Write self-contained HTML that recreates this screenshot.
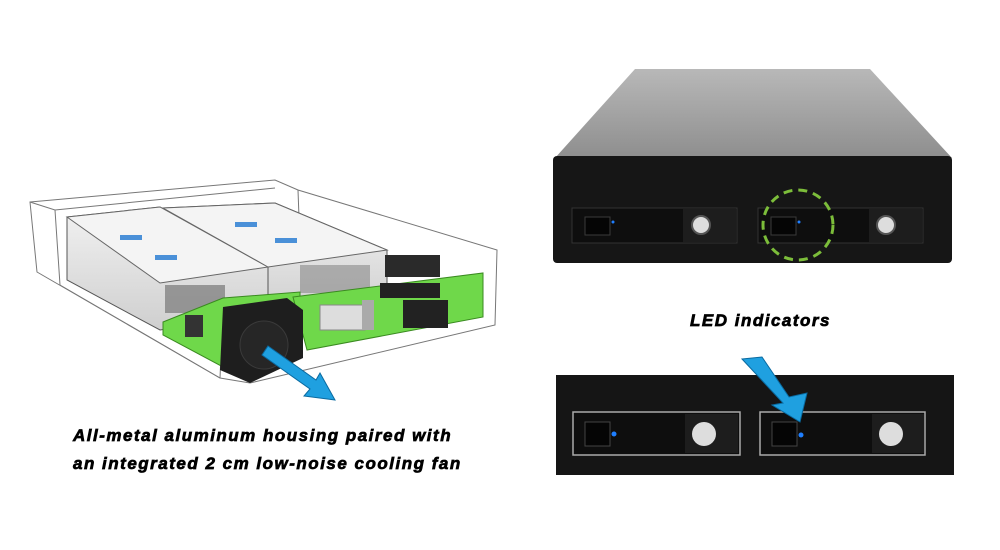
<!DOCTYPE html>
<html><head><meta charset="utf-8"><style>
html,body{margin:0;padding:0;background:#fff;}
svg{display:block}
text{font-family:"Liberation Sans",Arial,sans-serif;font-weight:bold;font-style:italic;fill:#000;stroke:#000;stroke-width:0.7px;letter-spacing:1.5px}
</style></head><body>
<svg width="1000" height="550" viewBox="0 0 1000 550" xmlns="http://www.w3.org/2000/svg">
<defs>
<linearGradient id="top" x1="0" y1="0" x2="0" y2="1">
<stop offset="0" stop-color="#b8b8b8"/><stop offset="1" stop-color="#8e8e8e"/></linearGradient>
<linearGradient id="tray" x1="0" y1="0" x2="0" y2="1">
<stop offset="0" stop-color="#f2f2f2"/><stop offset="1" stop-color="#cfcfcf"/></linearGradient>
</defs>

<!-- LEFT: transparent enclosure -->
<g fill="none" stroke="#777" stroke-width="1">
<polygon points="30,202 275,180 298,190 497,250 495,325 250,383 220,378 37,272"/>
<polyline points="30,202 55,210 275,188"/>
<polyline points="55,210 60,285 220,378"/>
<polyline points="298,190 300,245"/>
<polyline points="220,378 222,330"/>
</g>
<polygon points="67,217 160,207 268,267 268,315 160,330 67,280" fill="url(#tray)" stroke="#555"/>
<polygon points="163,208 275,203 387,250 387,300 268,315 268,267" fill="url(#tray)" stroke="#555"/>
<polygon points="67,217 160,207 268,267 160,283" fill="#f4f4f4" stroke="#666"/>
<polygon points="163,208 275,203 387,250 268,267" fill="#f4f4f4" stroke="#666"/>
<rect x="120" y="235" width="22" height="5" fill="#4a90d8"/>
<rect x="155" y="255" width="22" height="5" fill="#4a90d8"/>
<rect x="235" y="222" width="22" height="5" fill="#4a90d8"/>
<rect x="275" y="238" width="22" height="5" fill="#4a90d8"/>
<rect x="165" y="285" width="60" height="28" fill="#777" opacity="0.7"/>
<rect x="300" y="265" width="70" height="28" fill="#888" opacity="0.6"/>
<polygon points="163,322 223,298 300,292 300,355 223,367 163,335" fill="#6fd84a" stroke="#3a8a20"/>
<polygon points="293,297 483,273 483,317 307,350" fill="#6fd84a" stroke="#3a8a20"/>
<rect x="385" y="255" width="55" height="22" fill="#2a2a2a"/>
<rect x="380" y="283" width="60" height="15" fill="#222"/>
<rect x="403" y="300" width="45" height="28" fill="#222"/>
<rect x="185" y="315" width="18" height="22" fill="#333"/>
<rect x="320" y="305" width="45" height="25" fill="#ddd" stroke="#888"/>
<rect x="362" y="300" width="12" height="30" fill="#aaa"/>
<polygon points="223,307 287,298 303,310 303,358 250,383 220,370" fill="#1e1e1e"/>
<circle cx="264" cy="345" r="24" fill="#262626" stroke="#3a3a3a"/>
<polygon points="268,346 316,380 320,373 335,400 304,396 310,389 262,355" fill="#1fa0e0" stroke="#0a6aa0" stroke-width="1"/>

<text x="73" y="441" font-size="17">All-metal aluminum housing paired with</text>
<text x="73" y="469" font-size="17">an integrated 2 cm low-noise cooling fan</text>

<!-- RIGHT TOP device -->
<polygon points="635,69 870,69 952,158 555,158" fill="url(#top)"/>
<rect x="553" y="156" width="399" height="107" rx="4" fill="#161616"/>
<g>
<rect x="572" y="208" width="165" height="35" fill="#0e0e0e" stroke="#333"/>
<rect x="758" y="208" width="165" height="35" fill="#0e0e0e" stroke="#333"/>
<rect x="683" y="209" width="53" height="33" fill="#1d1d1d"/>
<rect x="869" y="209" width="53" height="33" fill="#1d1d1d"/>
<rect x="585" y="217" width="25" height="18" fill="#050505" stroke="#3a3a3a"/>
<rect x="771" y="217" width="25" height="18" fill="#050505" stroke="#3a3a3a"/>
<circle cx="613" cy="222" r="1.5" fill="#1f7fff"/>
<circle cx="799" cy="222" r="1.5" fill="#1f7fff"/>
<circle cx="701" cy="225" r="9" fill="#ddd" stroke="#555" stroke-width="2"/>
<circle cx="886" cy="225" r="9" fill="#ddd" stroke="#555" stroke-width="2"/>
</g>
<circle cx="798" cy="225" r="35" fill="none" stroke="#7cbd3a" stroke-width="3" stroke-dasharray="9,6"/>

<text x="690" y="326" font-size="17">LED indicators</text>

<!-- RIGHT BOTTOM panel -->
<rect x="556" y="375" width="398" height="100" fill="#151515"/>
<rect x="573" y="412" width="167" height="43" fill="#0e0e0e" stroke="#aaa" stroke-width="1.5"/>
<rect x="760" y="412" width="165" height="43" fill="#0e0e0e" stroke="#aaa" stroke-width="1.5"/>
<rect x="685" y="414" width="53" height="39" fill="#1d1d1d"/>
<rect x="872" y="414" width="52" height="39" fill="#1d1d1d"/>
<rect x="585" y="422" width="25" height="24" fill="#050505" stroke="#444"/>
<rect x="772" y="422" width="25" height="24" fill="#050505" stroke="#444"/>
<circle cx="614" cy="434" r="2.5" fill="#1f7fff"/>
<circle cx="801" cy="435" r="2.5" fill="#1f7fff"/>
<circle cx="704" cy="434" r="12" fill="#ddd"/>
<circle cx="891" cy="434" r="12" fill="#ddd"/>
<polygon points="742,359 762,357 789,397 807,393 800,422 772,405 783,403" fill="#1fa0e0" stroke="#0a6aa0"/>
</svg>
</body></html>
